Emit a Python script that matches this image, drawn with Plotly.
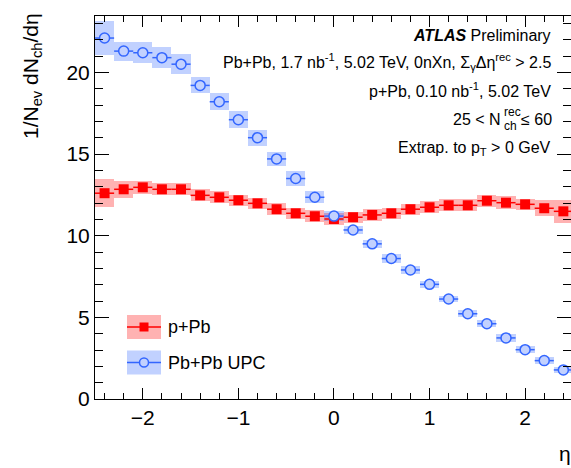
import plotly.graph_objects as go

eta = [-2.4, -2.2, -2.0, -1.8, -1.6, -1.4, -1.2, -1.0, -0.8, -0.6, -0.4, -0.2, 0.0,
       0.2, 0.4, 0.6, 0.8, 1.0, 1.2, 1.4, 1.6, 1.8, 2.0, 2.2, 2.4]

ppb_val = [12.6, 12.84, 12.96, 12.84, 12.84, 12.47, 12.35, 12.17, 11.98, 11.62, 11.37, 11.19, 11.02,
           11.13, 11.27, 11.37, 11.62, 11.74, 11.86, 11.86, 12.14, 12.02, 11.92, 11.68, 11.49]
ppb_sys = [0.84, 0.53, 0.38, 0.37, 0.37, 0.37, 0.37, 0.35, 0.34, 0.37, 0.35, 0.37, 0.37,
           0.34, 0.35, 0.35, 0.35, 0.37, 0.37, 0.37, 0.36, 0.38, 0.35, 0.49, 0.69]

upc_val = [22.1, 21.3, 21.2, 20.9, 20.5, 19.2, 18.2, 17.1, 16.0, 14.7, 13.5, 12.35, 11.2,
           10.35, 9.5, 8.6, 7.9, 7.02, 6.12, 5.22, 4.61, 3.74, 3.02, 2.35, 1.78]
upc_sys = [1.02, 0.58, 0.63, 0.63, 0.61, 0.49, 0.52, 0.51, 0.48, 0.41, 0.45, 0.36, 0.31,
           0.26, 0.26, 0.25, 0.23, 0.23, 0.2, 0.22, 0.21, 0.23, 0.2, 0.2, 0.2]

bin_half_width = 0.1

RED = "#ff0000"
RED_BOX = "rgba(255,0,0,0.3)"
BLUE = "#3366ff"
BLUE_BOX = "rgba(51,102,255,0.3)"
BLUE_FILL = "#c2d1ff"

FONT = "Liberation Sans, Arial, sans-serif"

fig = go.Figure()

fig.add_trace(go.Bar(
    x=eta, y=[2 * s for s in ppb_sys], base=[v - s for v, s in zip(ppb_val, ppb_sys)],
    width=2 * bin_half_width, marker=dict(color=RED_BOX, line=dict(width=0)),
    showlegend=False, hoverinfo="skip"))
fig.add_trace(go.Scatter(
    x=eta, y=ppb_val, mode="markers",
    marker=dict(symbol="square", size=10, color=RED, line=dict(width=0)),
    error_x=dict(type="constant", value=bin_half_width, width=0, thickness=1.5, color=RED),
    showlegend=False))
fig.add_trace(go.Bar(
    x=eta, y=[2 * s for s in upc_sys], base=[v - s for v, s in zip(upc_val, upc_sys)],
    width=2 * bin_half_width, marker=dict(color=BLUE_BOX, line=dict(width=0)),
    showlegend=False, hoverinfo="skip"))
fig.add_trace(go.Scatter(
    x=eta, y=upc_val, mode="markers",
    marker=dict(symbol="circle", size=10, color=BLUE_FILL, line=dict(width=1.5, color=BLUE)),
    error_x=dict(type="constant", value=bin_half_width, width=0, thickness=1.5, color=BLUE),
    showlegend=False))

L, R, T, B = 95, 0, 16, 69
W, H = 571, 468
pw, ph = W - L - R, H - T - B


def px(xp):
    return (xp - L) / pw


def py(yp):
    return (H - B - yp) / ph


annotations = []


def add_text(text, x, y, size, xanchor="right", yanchor="middle", **kw):
    annotations.append(dict(text=text, x=px(x), y=py(y), xref="paper", yref="paper",
                            xanchor=xanchor, yanchor=yanchor, showarrow=False,
                            font=dict(family=FONT, size=size, color="black"), **kw))


TXT = 16
add_text("<b><i>ATLAS</i></b> Preliminary", 553, 35.5, TXT)
add_text("Pb+Pb, 1.7 nb<sup>-1</sup>, 5.02 TeV, 0nXn, Σ<sub>γ</sub>Δη<sup>rec</sup> &gt; 2.5", 553, 62, TXT)
add_text("p+Pb, 0.10 nb<sup>-1</sup>, 5.02 TeV", 553, 90, TXT)
# 25 < N_ch^rec <= 60 with stacked sub/superscript
add_text("25 &lt; N", 503, 119, TXT)
add_text("rec", 501.5, 112, 12, xanchor="left")
add_text("ch", 501.5, 126, 12, xanchor="left")
add_text("≤ 60", 554, 119, TXT)
add_text("Extrap. to p<sub>T</sub> &gt; 0 GeV", 553, 148.5, TXT)

add_text("1/N<sub>ev</sub> dN<sub>ch</sub>/dη", 32, 76, 21, xanchor="center", textangle=-90)
add_text("η", 565, 453, 21, xanchor="center")

shapes = []
legend_rows = [("p+Pb", 327, RED_BOX, RED, "square"), ("Pb+Pb UPC", 362.5, BLUE_BOX, BLUE, "circle")]
for label, yc, box, col, sym in legend_rows:
    shapes.append(dict(type="rect", xref="paper", yref="paper", x0=px(127), x1=px(161),
                       y0=py(yc + 12), y1=py(yc - 12), fillcolor=box, line=dict(width=0)))
    shapes.append(dict(type="line", xref="paper", yref="paper", x0=px(127), x1=px(161),
                       y0=py(yc), y1=py(yc), line=dict(color=col, width=1.5)))
    if sym == "square":
        shapes.append(dict(type="rect", xref="paper", yref="paper", x0=px(139.5), x1=px(148.5),
                           y0=py(yc + 4.5), y1=py(yc - 4.5), fillcolor=col, line=dict(width=0)))
    else:
        shapes.append(dict(type="circle", xref="paper", yref="paper", x0=px(139.5), x1=px(148.5),
                           y0=py(yc + 4.5), y1=py(yc - 4.5), fillcolor=BLUE_FILL,
                           line=dict(color=col, width=1.5)))
    add_text(label, 166, yc, 18, xanchor="left")

fig.update_layout(
    width=W, height=H,
    margin=dict(l=L, r=R, t=T, b=B, pad=0),
    paper_bgcolor="white", plot_bgcolor="white",
    barmode="overlay", bargap=0,
    showlegend=False,
    annotations=annotations, shapes=shapes,
    font=dict(family=FONT, color="black"),
)
fig.update_xaxes(
    range=[-2.5, 2.48], showgrid=False, zeroline=False,
    showline=True, linecolor="black", linewidth=1, mirror="ticks",
    ticks="inside", ticklen=11, tickwidth=1, tickcolor="black",
    tickmode="array", tickvals=[-2, -1, 0, 1, 2],
    tickfont=dict(family=FONT, size=21, color="black"),
    minor=dict(ticks="inside", ticklen=6, tickcolor="black", dtick=0.2, tick0=0, showgrid=False),
)
fig.update_yaxes(
    range=[0, 23.45], showgrid=False, zeroline=False,
    showline=True, linecolor="black", linewidth=1, mirror="ticks",
    ticks="inside", ticklen=14, tickwidth=1, tickcolor="black",
    tickmode="array", tickvals=[0, 5, 10, 15, 20],
    tickfont=dict(family=FONT, size=21, color="black"),
    minor=dict(ticks="inside", ticklen=8, tickcolor="black", dtick=1, tick0=0, showgrid=False),
)

fig.write_html("out.html", config={"displayModeBar": False},
               post_script="document.body.style.margin='0';")
